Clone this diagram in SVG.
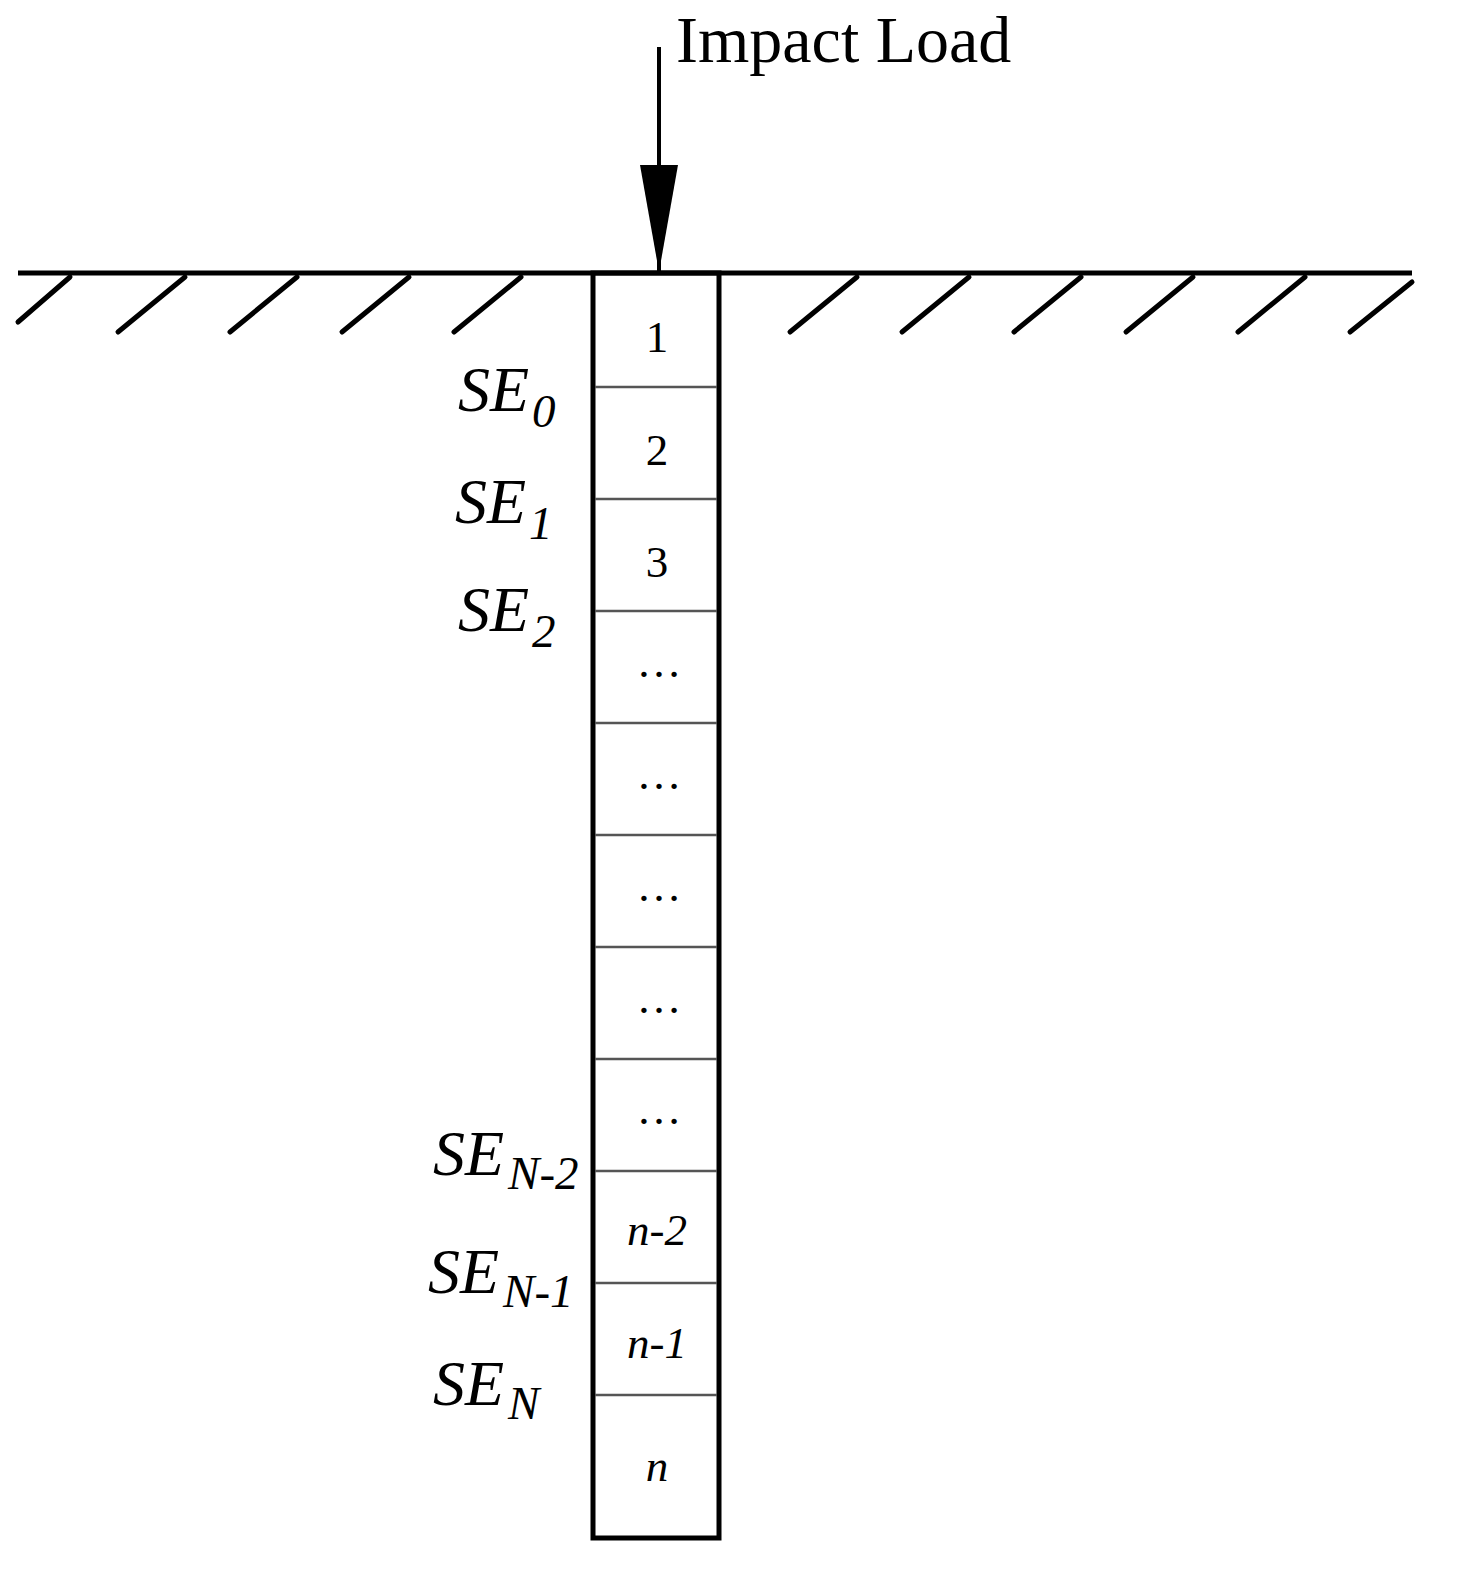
<svg xmlns="http://www.w3.org/2000/svg" width="1459" height="1593" viewBox="0 0 1459 1593">
<style>
.t{font-family:"Liberation Serif","Times New Roman",serif;fill:#000}
.num{font-size:45px;text-anchor:middle}
.it{font-style:italic}
.se{font-size:64px;font-style:italic}
.sub{font-size:47px}
.hatch{stroke:#000;stroke-width:5;stroke-linecap:round}
.div{stroke:#555;stroke-width:2.5}
</style>
<defs>
<marker id="ah" markerWidth="110" markerHeight="40" refX="107" refY="20" orient="auto" markerUnits="userSpaceOnUse" viewBox="0 0 110 40">
<path d="M0,1 L0,39 L107,20 Z" fill="#000"/>
</marker>
</defs>
<rect width="1459" height="1593" fill="#fff"/>
<g id="ground">
<line x1="18" y1="273" x2="1412" y2="273" stroke="#000" stroke-width="5"/>
<line class="hatch" x1="18" y1="322" x2="70" y2="277"/>
<line class="hatch" x1="118" y1="332" x2="185" y2="277"/>
<line class="hatch" x1="230" y1="332" x2="297" y2="277"/>
<line class="hatch" x1="342" y1="332" x2="409" y2="277"/>
<line class="hatch" x1="454" y1="332" x2="521" y2="277"/>
<line class="hatch" x1="790" y1="332" x2="857" y2="277"/>
<line class="hatch" x1="902" y1="332" x2="969" y2="277"/>
<line class="hatch" x1="1014" y1="332" x2="1081" y2="277"/>
<line class="hatch" x1="1126" y1="332" x2="1193" y2="277"/>
<line class="hatch" x1="1238" y1="332" x2="1305" y2="277"/>
<line class="hatch" x1="1350" y1="332" x2="1412" y2="282"/>
</g>
<g id="pile">
<rect x="593" y="273" width="126" height="1265" fill="none" stroke="#000" stroke-width="5"/>
<line class="div" x1="595" y1="387" x2="717" y2="387"/>
<line class="div" x1="595" y1="499" x2="717" y2="499"/>
<line class="div" x1="595" y1="611" x2="717" y2="611"/>
<line class="div" x1="595" y1="723" x2="717" y2="723"/>
<line class="div" x1="595" y1="835" x2="717" y2="835"/>
<line class="div" x1="595" y1="947" x2="717" y2="947"/>
<line class="div" x1="595" y1="1059" x2="717" y2="1059"/>
<line class="div" x1="595" y1="1171" x2="717" y2="1171"/>
<line class="div" x1="595" y1="1283" x2="717" y2="1283"/>
<line class="div" x1="595" y1="1395" x2="717" y2="1395"/>
</g>
<g id="cells">
<text class="t num" x="657" y="352">1</text>
<text class="t num" x="657" y="465">2</text>
<text class="t num" x="657" y="577">3</text>
<text class="t num" x="659" y="677">…</text>
<text class="t num" x="659" y="789">…</text>
<text class="t num" x="659" y="901">…</text>
<text class="t num" x="659" y="1013">…</text>
<text class="t num" x="659" y="1124">…</text>
<text class="t num it" x="657" y="1245">n-2</text>
<text class="t num it" x="657" y="1358">n-1</text>
<text class="t num it" x="657" y="1481">n</text>
</g>
<g id="labels">
<text class="t se" x="458" y="411">SE<tspan class="sub" dx="3" dy="16">0</tspan></text>
<text class="t se" x="455" y="523">SE<tspan class="sub" dx="3" dy="16">1</tspan></text>
<text class="t se" x="458" y="631">SE<tspan class="sub" dx="3" dy="16">2</tspan></text>
<text class="t se" x="433" y="1175">SE<tspan class="sub" dx="4" dy="14">N-2</tspan></text>
<text class="t se" x="428" y="1293">SE<tspan class="sub" dx="4" dy="14">N-1</tspan></text>
<text class="t se" x="433" y="1405">SE<tspan class="sub" dx="4" dy="14">N</tspan></text>
</g>
<g id="load">
<text class="t" x="676" y="62" font-size="66">Impact Load</text>
</g>
<g id="connectors">
<line x1="659" y1="47" x2="659" y2="272" stroke="#000" stroke-width="4" marker-end="url(#ah)"/>
</g>
</svg>
